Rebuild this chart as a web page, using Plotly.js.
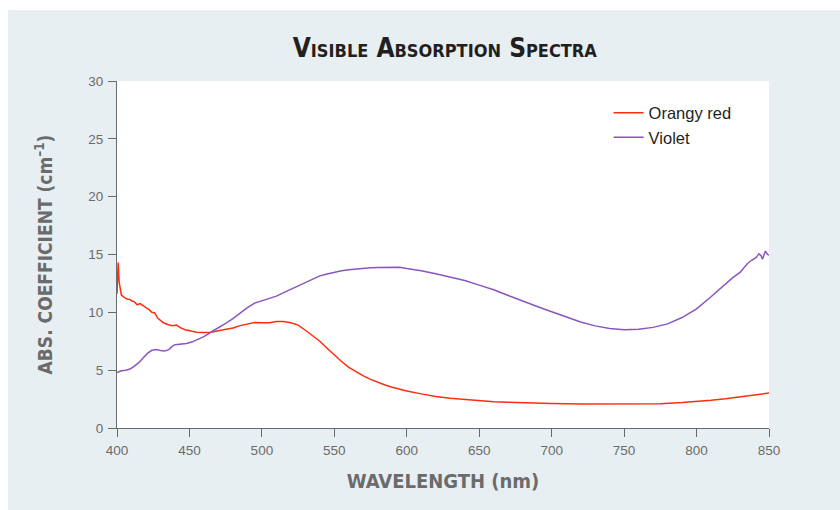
<!DOCTYPE html>
<html>
<head>
<meta charset="utf-8">
<script src="https://cdn.plot.ly/plotly-3.0.1.min.js"></script>
<style>
html,body{margin:0;padding:0;background:#ffffff;}
#chart{position:absolute;left:8px;top:10px;width:832px;height:500px;}
</style>
</head>
<body>
<div id="chart"></div>
<script>
// Orangy red spectrum
const redWavelength = [400,400.8,401.5,403,405,407,409,410,412,414,416,418,420,422,424,426,428,430,432,435,438,441,444,447,450,455,460,465,470,475,480,485,490,495,500,505,510,515,520,525,530,535,540,545,550,555,560,565,570,575,580,585,590,595,600,610,620,630,640,650,660,670,680,690,700,720,740,760,775,790,800,810,820,830,840,850];
const redAbs = [11.6,14.3,12.6,11.5,11.3,11.15,11.1,11.0,10.9,10.65,10.75,10.55,10.4,10.25,10.0,9.95,9.5,9.3,9.1,8.95,8.85,8.9,8.65,8.5,8.4,8.28,8.25,8.27,8.4,8.52,8.65,8.85,9.0,9.12,9.1,9.1,9.2,9.2,9.1,8.9,8.45,7.95,7.5,6.9,6.3,5.75,5.25,4.85,4.5,4.2,3.95,3.72,3.53,3.35,3.2,2.95,2.73,2.58,2.47,2.35,2.28,2.22,2.17,2.14,2.12,2.08,2.07,2.08,2.1,2.2,2.28,2.4,2.53,2.68,2.84,3.02];

// Violet spectrum
const violetWavelength = [400,403,406,409,412,415,418,421,424,427,430,433,436,438,440,444,448,452,456,460,465,470,475,480,485,490,495,500,505,510,515,520,525,530,535,540,545,550,555,560,565,570,575,580,585,590,595,600,610,620,630,640,650,660,670,680,690,700,710,720,730,740,750,760,770,780,790,800,810,815,820,825,830,835,838,841,843,844.5,845.5,847.5,849,850];
const violetAbs = [4.8,4.95,5.0,5.1,5.35,5.65,6.05,6.45,6.72,6.78,6.7,6.65,6.8,7.05,7.2,7.26,7.3,7.45,7.65,7.9,8.3,8.65,9.05,9.45,9.95,10.4,10.8,11.0,11.15,11.4,11.7,12.0,12.3,12.6,12.9,13.15,13.32,13.48,13.6,13.68,13.76,13.82,13.86,13.88,13.9,13.93,13.9,13.78,13.6,13.33,13.05,12.75,12.35,11.95,11.45,10.95,10.5,10.05,9.6,9.17,8.83,8.6,8.5,8.53,8.7,9.0,9.55,10.3,11.35,11.9,12.5,13.0,13.45,14.2,14.5,14.72,15.05,14.9,14.6,15.3,15.0,14.95];

const xTicks = [400,450,500,550,600,650,700,750,800,850];
const yTicks = [0,5,10,15,20,25,30];

const traces = [
  {x: redWavelength, y: redAbs, name: 'Orangy red', type: 'scatter', mode: 'lines',
   line: {color: '#ff2d0f', width: 1.5}},
  {x: violetWavelength, y: violetAbs, name: 'Violet', type: 'scatter', mode: 'lines',
   line: {color: '#8b55c0', width: 1.5}}
];

const axisFont = {family: 'Liberation Sans, Arial, sans-serif', size: 13.5, color: '#6b6b6b'};
const titleFam = '"DejaVu Sans Condensed", "Liberation Sans", sans-serif';

const layout = {
  width: 832, height: 500,
  paper_bgcolor: '#e8eff2',
  plot_bgcolor: '#ffffff',
  margin: {l: 109, r: 71, t: 71, b: 82},
  showlegend: true,
  title: {
    text: 'Visible Absorption Spectra',
    font: {family: titleFam, size: 26, color: '#231f20', weight: 700, variant: 'small-caps'},
    x: 0.525, xanchor: 'center', y: 0.925, yanchor: 'middle'
  },
  legend: {
    x: 0.754, xanchor: 'left', y: 0.958, yanchor: 'top',
    bgcolor: 'rgba(0,0,0,0)',
    font: {family: 'Liberation Sans, Arial, sans-serif', size: 16.5, color: '#231f20'},
    tracegroupgap: 0
  },
  xaxis: {
    range: [400, 850],
    tickvals: xTicks,
    ticktext: xTicks.map(String),
    showgrid: false, zeroline: false,
    showline: true, linecolor: '#6b6b6b', linewidth: 1,
    ticks: 'outside', ticklen: 8, tickcolor: '#6b6b6b', tickwidth: 1,
    ticklabelstandoff: 2,
    tickfont: axisFont,
    title: {text: 'WAVELENGTH (nm)', font: {family: titleFam, size: 20, color: '#6b6b6b', weight: 700}, standoff: 16}
  },
  yaxis: {
    range: [0, 30],
    tickvals: yTicks,
    ticktext: yTicks.map(String),
    showgrid: false, zeroline: false,
    showline: true, linecolor: '#6b6b6b', linewidth: 1,
    ticks: 'outside', ticklen: 8, tickcolor: '#6b6b6b', tickwidth: 1,
    ticklabelstandoff: 2,
    tickfont: axisFont,
    title: {text: 'ABS. COEFFICIENT (cm<sup>–1</sup>)', font: {family: titleFam, size: 19, color: '#6b6b6b', weight: 700}, standoff: 30}
  }
};

Plotly.newPlot('chart', traces, layout, {displayModeBar: false, staticPlot: true});
</script>
</body>
</html>
